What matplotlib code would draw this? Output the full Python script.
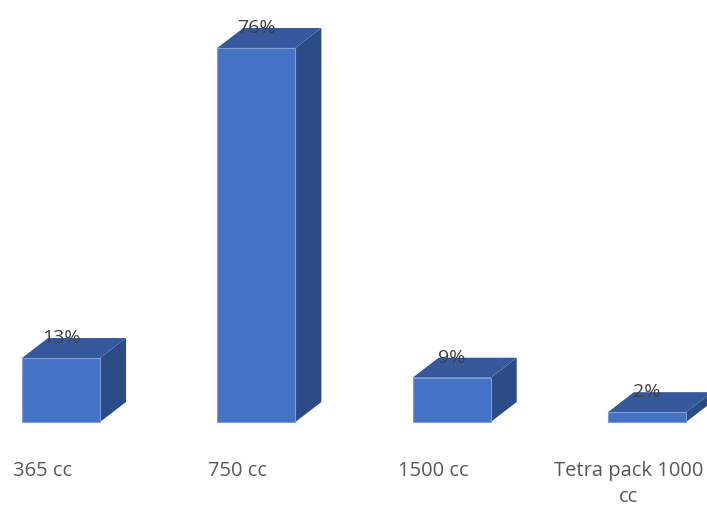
import matplotlib
import matplotlib.pyplot as plt
from matplotlib.patches import Polygon

matplotlib.rcParams['font.family'] = ['Open Sans', 'DejaVu Sans']

# Dades: envasos i percentatge de cada un
envasos = ['365 cc', '750 cc', '1500 cc', 'Tetra pack 1000\ncc']
percent = [13, 76, 9, 2]
etiquetes = ['13%', '76%', '9%', '2%']

# Colors de les cares de cada barra 3D
c_front = '#4472C4'
c_top = '#36599E'
c_side = '#2C4C88'

ample = 0.4     # amplada de la barra (unitats de categoria)
fons_x = 0.133  # profunditat en x
fons_y = 4.06   # profunditat en y (%)

fig = plt.figure(figsize=(7.07, 5.08), dpi=100)
ax = fig.add_axes([0, 0, 1, 1])
ax.set_xlim(-0.3123, 3.307)
ax.set_ylim(-17.48, 85.75)
ax.axis('off')

for i, v in enumerate(percent):
    x0, x1 = i - ample / 2, i + ample / 2
    cara = Polygon([(x0, 0), (x1, 0), (x1, v), (x0, v)], closed=True,
                   facecolor=c_front, edgecolor='#7D9BD6', linewidth=0.8, zorder=3)
    dalt = Polygon([(x0, v), (x1, v), (x1 + fons_x, v + fons_y), (x0 + fons_x, v + fons_y)],
                   closed=True, facecolor=c_top, edgecolor='none', zorder=2)
    costat = Polygon([(x1, 0), (x1 + fons_x, fons_y), (x1 + fons_x, v + fons_y), (x1, v)],
                     closed=True, facecolor=c_side, edgecolor='none', zorder=2)
    for p in (costat, dalt, cara):
        ax.add_patch(p)
    ax.text(i, v + fons_y, etiquetes[i], ha='center', va='center',
            fontsize=14, color='#404040', zorder=5)
    ax.text(i - 0.095, -8.0, envasos[i], ha='center', va='top',
            fontsize=14.5, color='#595959', linespacing=1.35)

fig.savefig('out.png', dpi=100)
